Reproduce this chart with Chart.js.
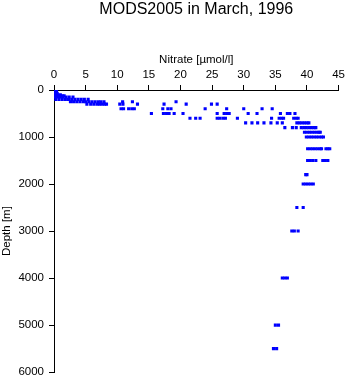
<!DOCTYPE html>
<html>
<head>
<meta charset="utf-8">
<script src="https://cdn.jsdelivr.net/npm/chart.js@4.4.1/dist/chart.umd.min.js"></script>
<style>
  html, body { margin: 0; padding: 0; background: #fff; }
</style>
</head>
<body>
<canvas id="chart1" width="348" height="384"></canvas>
<script>
// standard depth levels (m) and the nitrate readings found at each one (umol/l)
const depthLevels = [0, 10, 20, 30, 50, 75, 100, 125, 150, 200, 250, 300, 400, 500, 600, 700, 800, 900, 1000, 1250, 1500, 1800, 2000, 2500, 3000, 4000, 5000, 5500];
const nitrateByLevel = [
  [0.1, 0.2, 0.3],
  [0.1, 0.3],
  [0.2, 0.4],
  [0.1, 0.3],
  [0.2, 0.4],
  [0.2, 0.5],
  [0.2, 0.6, 1.0, 0.4],
  [0.3, 0.7, 1.0, 1.3, 1.6],
  [0.2, 0.6, 1.0, 1.4, 1.9, 2.4, 3.0],
  [0.3, 0.8, 1.3, 1.8, 2.3, 2.8, 3.3, 3.8, 4.3, 4.8, 5.4],
  [2.6, 3.1, 3.6, 4.1, 4.6, 5.0, 5.5, 6.0, 6.5, 7.0, 7.4, 7.9, 10.85, 12.4, 19.3],
  [5.2, 5.8, 6.3, 6.8, 7.2, 7.6, 8.0, 8.3, 10.4, 10.9, 13.2, 17.4, 20.9, 24.9, 25.8],
  [10.6, 11.0, 11.8, 12.3, 12.7, 17.2, 18.0, 18.5, 23.9, 27.3, 30.0, 32.9, 34.5],
  [15.4, 17.3, 17.8, 18.2, 19.0, 20.4, 25.8, 26.9, 27.3, 27.7, 30.7, 32.1, 35.8, 36.9, 37.3, 38.1],
  [21.5, 22.4, 23.1, 25.8, 26.2, 26.7, 27.1, 29.0, 34.4, 35.6, 36.0, 36.3, 37.9, 38.3, 38.6],
  [30.3, 31.3, 32.2, 33.2, 34.3, 35.3, 36.1, 38.4, 38.8, 39.2, 39.6, 40.0, 40.3],
  [36.5, 37.7, 38.3, 39.1, 39.5, 39.9, 40.3, 40.7, 41.1, 41.4],
  [39.6, 40.0, 40.4, 40.8, 41.2, 41.6, 41.9, 42.1],
  [39.9, 40.3, 40.7, 41.1, 41.5, 41.9, 42.3, 42.6],
  [40.1, 40.5, 40.9, 41.3, 41.7, 42.1, 42.3, 43.0, 43.3, 43.6],
  [40.1, 40.5, 40.9, 41.4, 42.5, 42.9, 43.3],
  [39.8, 40.0],
  [39.4, 39.8, 40.2, 40.6, 41.0],
  [38.4, 39.4],
  [37.6, 38.0, 38.6],
  [36.1, 36.5, 36.9],
  [35.0, 35.5],
  [34.7, 35.2]
];
const nitrateTicks = [0, 5, 10, 15, 20, 25, 30, 35, 40, 45];
const depthTicks = [0, 1000, 2000, 3000, 4000, 5000, 6000];

const points = [];
depthLevels.forEach((d, i) => {
  nitrateByLevel[i].forEach(v => points.push({ x: v, y: d }));
});

const fontFamily = '"Liberation Sans", Arial, Helvetica, sans-serif';

new Chart(document.getElementById('chart1'), {
  type: 'scatter',
  data: {
    datasets: [{
      label: 'Nitrate',
      data: points,
      pointStyle: 'rect',
      pointRadius: 2.2,
      pointHoverRadius: 2.2,
      borderWidth: 0,
      backgroundColor: '#0000ff'
    }]
  },
  options: {
    responsive: false,
    animation: false,
    events: [],
    layout: { padding: { left: 0, right: 9, top: 0, bottom: 9 } },
    plugins: {
      legend: { display: false },
      tooltip: { enabled: false },
      title: {
        display: true,
        text: 'MODS2005 in March, 1996',
        fullSize: false,
        color: '#000',
        font: { family: fontFamily, size: 16, weight: 'normal', lineHeight: 1.2 },
        padding: { top: 0, bottom: 0 }
      }
    },
    scales: {
      x: {
        type: 'linear',
        position: 'top',
        min: 0,
        max: 45,
        afterBuildTicks: s => { s.ticks = nitrateTicks.map(v => ({ value: v })); },
        afterFit: s => { s.height = 70.8; },
        grid: { drawOnChartArea: false, drawTicks: true, tickLength: 5, color: '#000' },
        border: { display: true, color: '#000', width: 1 },
        ticks: { color: '#000', padding: 3, maxRotation: 0, font: { family: fontFamily, size: 11.5 },
                 callback: v => String(v) },
        title: {
          display: true,
          text: 'Nitrate [\u00b5mol/l]',
          color: '#000',
          font: { family: fontFamily, size: 11.5 },
          padding: { top: 34.2, bottom: 0 }
        }
      },
      y: {
        type: 'linear',
        reverse: true,
        min: 0,
        max: 6000,
        afterBuildTicks: s => { s.ticks = depthTicks.map(v => ({ value: v })); },
        afterFit: s => { s.width = 54; },
        grid: { drawOnChartArea: false, drawTicks: true, tickLength: 5, color: '#000' },
        border: { display: true, color: '#000', width: 1 },
        ticks: { color: '#000', padding: 5, font: { family: fontFamily, size: 11.5 },
                 callback: v => String(v) },
        title: {
          display: true,
          text: 'Depth [m]',
          color: '#000',
          font: { family: fontFamily, size: 11.5 },
          padding: { top: 0, bottom: 0 }
        }
      }
    }
  }
});
</script>
</body>
</html>
